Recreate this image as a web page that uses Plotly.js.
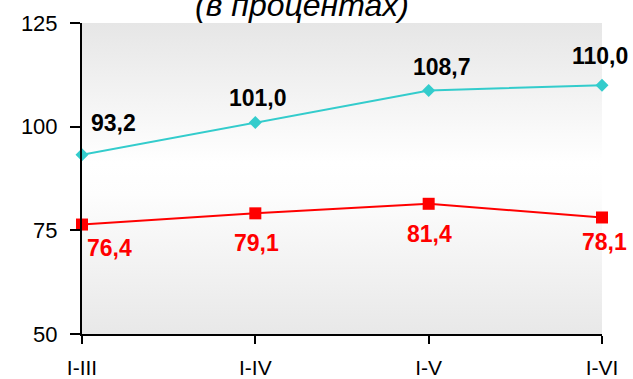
<!DOCTYPE html>
<html>
<head>
<meta charset="utf-8">
<script src="https://cdn.plot.ly/plotly-3.0.1.min.js"></script>
<style>html,body{margin:0;padding:0;background:#fff;}#chart{width:633px;height:379px;}</style>
</head>
<body>
<div id="chart"></div>
<script>
const categories = ["I-III", "I-IV", "I-V", "I-VI"];
const seriesCyan = [93.2, 101.0, 108.7, 110.0];
const seriesRed = [76.4, 79.1, 81.4, 78.1];
const yTicks = [50, 75, 100, 125];
const titleText = "(в процентах)";

const FONT = "Arial, 'Liberation Sans', sans-serif";
const fmt = v => v.toFixed(1).replace('.', ',');

// label offsets (pixels) — styling only
const cyanShift = [[31, 32], [3, 25], [13, 24], [-2, 29]];
const redShift = [[27, -23], [1, -30], [1, -30], [2, -25]];

const annotations = [];
categories.forEach((c, i) => {
  annotations.push({x: c, y: seriesCyan[i], xref: 'x', yref: 'y', text: '<b>' + fmt(seriesCyan[i]) + '</b>',
    showarrow: false, xshift: cyanShift[i][0], yshift: cyanShift[i][1],
    font: {family: FONT, size: 23, color: '#000'}});
  annotations.push({x: c, y: seriesRed[i], xref: 'x', yref: 'y', text: '<b>' + fmt(seriesRed[i]) + '</b>',
    showarrow: false, xshift: redShift[i][0], yshift: redShift[i][1],
    font: {family: FONT, size: 23, color: '#FF0000'}});
});

const svg = '<svg xmlns="http://www.w3.org/2000/svg" width="100" height="100" preserveAspectRatio="none">' +
  '<defs><linearGradient id="g" x1="0" y1="0" x2="0" y2="1">' +
  '<stop offset="0" stop-color="#e6e6e6"/><stop offset="0.45" stop-color="#ffffff"/>' +
  '<stop offset="0.55" stop-color="#fdfdfd"/><stop offset="1" stop-color="#e8e8e8"/>' +
  '</linearGradient></defs><rect width="100" height="100" fill="url(#g)"/></svg>';
const bgSrc = 'data:image/svg+xml;base64,' + btoa(svg);

const traces = [
  {x: categories, y: seriesCyan, type: 'scatter', mode: 'lines+markers',
   line: {color: '#33CCCC', width: 2}, marker: {symbol: 'diamond', size: 10, color: '#33CCCC'},
   hoverinfo: 'none', cliponaxis: false},
  {x: categories, y: seriesRed, type: 'scatter', mode: 'lines+markers',
   line: {color: '#FF0000', width: 2}, marker: {symbol: 'square', size: 12, color: '#FF0000'},
   hoverinfo: 'none', cliponaxis: false}
];

const layout = {
  width: 633, height: 379,
  margin: {l: 82, r: 31, t: 23, b: 45, pad: 0},
  paper_bgcolor: '#ffffff',
  plot_bgcolor: 'rgba(0,0,0,0)',
  showlegend: false,
  font: {family: FONT, color: '#000'},
  title: {text: '<i>' + titleText + '</i>', font: {family: FONT, size: 32, color: '#000'},
    x: 302 / 633, xanchor: 'center', xref: 'container', y: 0.987, yanchor: 'middle', yref: 'container'},
  xaxis: {type: 'category', range: [0, 3], showgrid: false, zeroline: false,
    showline: true, linecolor: '#000', linewidth: 2, ticks: 'outside', ticklen: 8, tickwidth: 2, tickcolor: '#000',
    tickfont: {family: FONT, size: 21, color: '#000'}, ticklabelstandoff: 6},
  yaxis: {range: [50, 125], tickvals: yTicks, ticktext: yTicks.map(String), showgrid: false, zeroline: false,
    showline: true, linecolor: '#000', linewidth: 2, ticks: 'outside', ticklen: 10, tickwidth: 2, tickcolor: '#000',
    tickfont: {family: FONT, size: 22, color: '#000'}, ticklabelstandoff: 8},
  images: [{source: bgSrc, xref: 'paper', yref: 'paper', x: 0, y: 1, sizex: 1, sizey: 1,
    sizing: 'stretch', xanchor: 'left', yanchor: 'top', layer: 'below'}],
  annotations: annotations
};

Plotly.newPlot('chart', traces, layout, {staticPlot: true, displayModeBar: false});
</script>
</body>
</html>
